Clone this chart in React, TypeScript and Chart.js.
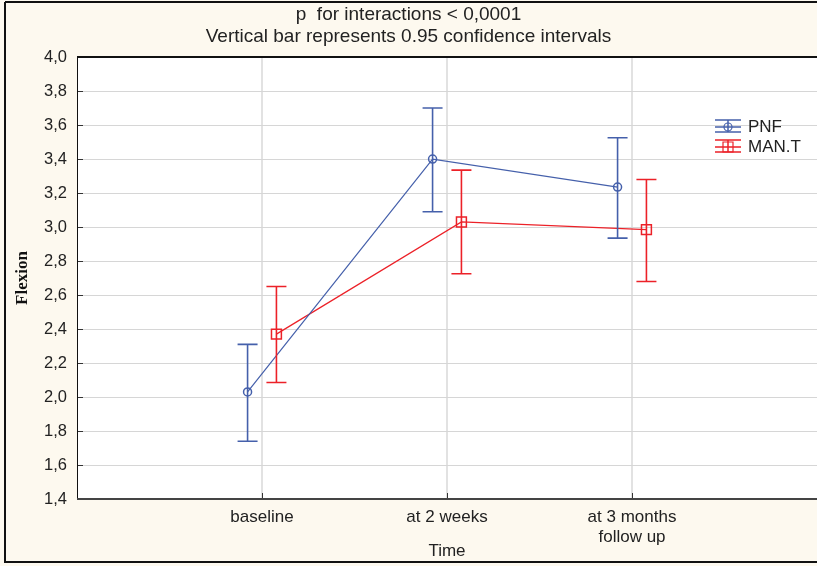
import React, { useEffect, useRef } from 'react';
import { Chart, registerables } from 'chart.js';

Chart.register(...registerables);

// ---- data ----
const categories: (string | string[])[] = ['baseline', 'at 2 weeks', ['at 3 months', 'follow up']];
const pnfMean = [2.03, 3.4, 3.235];
const pnfLow = [1.74, 3.09, 2.935];
const pnfHigh = [2.31, 3.7, 3.525];
const mantMean = [2.37, 3.03, 2.985];
const mantLow = [2.085, 2.725, 2.68];
const mantHigh = [2.65, 3.335, 3.28];
const yTickValues = [1.4, 1.6, 1.8, 2.0, 2.2, 2.4, 2.6, 2.8, 3.0, 3.2, 3.4, 3.6, 3.8, 4.0];
const titleLines = ['p  for interactions < 0,0001', 'Vertical bar represents 0.95 confidence intervals'];
const seriesNames = ['PNF', 'MAN.T'];
const xAxisTitle = 'Time';
const yAxisTitle = 'Flexion';

const BLUE = '#4560ab';
const RED = '#ec2128';
const CREAM = '#fdf9ef';
const OFFSET = 0.078;
const FONT = '"Liberation Sans", Arial, sans-serif';

const lows = [pnfLow, mantLow];
const highs = [pnfHigh, mantHigh];

const framePlugin = {
  id: 'frame',
  beforeDraw(chart: any) {
    const { ctx, chartArea, width, height } = chart;
    ctx.save();
    ctx.fillStyle = CREAM;
    ctx.fillRect(0, 0, width, height);
    ctx.fillStyle = '#ffffff';
    ctx.fillRect(chartArea.left, chartArea.top, chartArea.right - chartArea.left, chartArea.bottom - chartArea.top);
    ctx.strokeStyle = '#111';
    ctx.lineWidth = 2;
    ctx.beginPath();
    ctx.moveTo(5, 2);
    ctx.lineTo(width, 2);
    ctx.moveTo(5, 2);
    ctx.lineTo(5, 562);
    ctx.lineTo(width, 562);
    ctx.stroke();
    ctx.restore();
  },
  afterDraw(chart: any) {
    const { ctx, chartArea, scales } = chart;
    const { left, top, right, bottom } = chartArea;
    ctx.save();
    ctx.strokeStyle = '#333';
    ctx.lineWidth = 1;
    ctx.beginPath();
    for (const v of yTickValues) {
      const y = Math.round(scales.y.getPixelForValue(v)) + 0.5;
      ctx.moveTo(left, y);
      ctx.lineTo(left + 6, y);
    }
    for (let i = 0; i < categories.length; i++) {
      const x = Math.round(scales.x.getPixelForValue(i + 1)) + 0.5;
      ctx.moveTo(x, bottom);
      ctx.lineTo(x, bottom - 6);
    }
    ctx.stroke();
    ctx.strokeStyle = '#111';
    ctx.lineWidth = 2;
    ctx.beginPath();
    ctx.moveTo(right, top);
    ctx.lineTo(left, top);
    ctx.stroke();
    ctx.lineWidth = 1;
    ctx.beginPath();
    ctx.moveTo(left + 0.5, top);
    ctx.lineTo(left + 0.5, bottom);
    ctx.stroke();
    ctx.strokeStyle = '#444';
    ctx.lineWidth = 2;
    ctx.beginPath();
    ctx.moveTo(left, bottom);
    ctx.lineTo(right, bottom);
    ctx.stroke();

    // legend
    const lx = 715;
    const entries = [
      { y: 127, color: BLUE, style: 'circle' },
      { y: 147, color: RED, style: 'rect' },
    ];
    entries.forEach((e, i) => {
      ctx.strokeStyle = e.color;
      ctx.lineWidth = 1.5;
      ctx.beginPath();
      ctx.moveTo(lx, e.y - 7);
      ctx.lineTo(lx + 26, e.y - 7);
      ctx.moveTo(lx, e.y);
      ctx.lineTo(lx + 26, e.y);
      ctx.moveTo(lx, e.y + 5);
      ctx.lineTo(lx + 26, e.y + 5);
      ctx.moveTo(lx + 13, e.y - 7);
      ctx.lineTo(lx + 13, e.y + 5);
      ctx.stroke();
      ctx.lineWidth = 1.2;
      ctx.beginPath();
      if (e.style === 'circle') {
        ctx.arc(lx + 13, e.y, 4, 0, Math.PI * 2);
      } else {
        ctx.rect(lx + 13 - 5, e.y - 5, 10, 10);
      }
      ctx.stroke();
      ctx.fillStyle = '#222';
      ctx.font = `17px ${FONT}`;
      ctx.textBaseline = 'middle';
      ctx.textAlign = 'left';
      ctx.fillText(seriesNames[i], lx + 33, e.y);
    });
    ctx.restore();
  },
  afterDatasetsDraw(chart: any) {
    const { ctx, scales } = chart;
    ctx.save();
    chart.data.datasets.forEach((ds: any, di: number) => {
      ctx.strokeStyle = ds.borderColor;
      ctx.lineWidth = 1.6;
      ds.data.forEach((pt: any, i: number) => {
        const x = scales.x.getPixelForValue(pt.x);
        const yl = scales.y.getPixelForValue(lows[di][i]);
        const yh = scales.y.getPixelForValue(highs[di][i]);
        ctx.beginPath();
        ctx.moveTo(x, yl);
        ctx.lineTo(x, yh);
        ctx.moveTo(x - 10, yl);
        ctx.lineTo(x + 10, yl);
        ctx.moveTo(x - 10, yh);
        ctx.lineTo(x + 10, yh);
        ctx.stroke();
      });
    });
    ctx.restore();
  },
};

export default function App() {
  const ref = useRef<HTMLCanvasElement>(null);
  useEffect(() => {
    if (!ref.current) return;
    const mk = (vals: number[], off: number) => vals.map((v, i) => ({ x: i + 1 + off, y: v }));
    const chart = new Chart(ref.current, {
      type: 'line',
      data: {
        datasets: [
          {
            label: seriesNames[0],
            data: mk(pnfMean, -OFFSET),
            borderColor: BLUE,
            backgroundColor: 'rgba(255,255,255,0)',
            borderWidth: 1.2,
            pointStyle: 'circle',
            pointRadius: 4,
            pointBorderWidth: 1.5,
            pointBackgroundColor: 'rgba(255,255,255,0)',
          },
          {
            label: seriesNames[1],
            data: mk(mantMean, OFFSET),
            borderColor: RED,
            backgroundColor: 'rgba(255,255,255,0)',
            borderWidth: 1.2,
            pointStyle: 'rect',
            pointRadius: 7,
            pointBorderWidth: 1.5,
            pointBackgroundColor: 'rgba(255,255,255,0)',
          },
        ],
      },
      options: {
        responsive: false,
        animation: false,
        devicePixelRatio: 1,
        layout: { padding: 0, autoPadding: false },
        plugins: {
          legend: { display: false },
          tooltip: { enabled: false },
          title: {
            display: true,
            text: titleLines,
            color: '#222',
            font: { family: FONT, size: 19, weight: 'normal', lineHeight: 1.16 },
            padding: { top: 4, bottom: 9 },
          },
        },
        scales: {
          x: {
            type: 'linear',
            min: 0,
            max: 4,
            afterFit(scale: any) {
              scale.height = 67;
              scale.paddingLeft = 0;
              scale.paddingRight = 0;
            },
            afterBuildTicks(scale: any) {
              scale.ticks = categories.map((_, i) => ({ value: i + 1 }));
            },
            ticks: {
              color: '#222',
              font: { family: FONT, size: 17, lineHeight: 1.18 },
              padding: 8,
              maxRotation: 0,
              autoSkip: false,
              callback: (v: any) => categories[Number(v) - 1] as any,
            },
            grid: { color: '#e2e2e2', lineWidth: 2, drawTicks: false },
            border: { display: false },
            title: {
              display: true,
              text: xAxisTitle,
              color: '#222',
              font: { family: FONT, size: 17, lineHeight: 1.2 },
              padding: { top: 0, bottom: 4 },
            },
          },
          y: {
            type: 'linear',
            min: 1.4,
            max: 4.0,
            afterFit(scale: any) {
              scale.width = 77;
            },
            afterBuildTicks(scale: any) {
              scale.ticks = yTickValues.map((v) => ({ value: v }));
            },
            ticks: {
              color: '#222',
              font: { family: FONT, size: 16.5 },
              padding: 10,
              callback: (v: any) => Number(v).toFixed(1).replace('.', ','),
            },
            grid: { color: '#d6d6d6', lineWidth: 1, drawTicks: false },
            border: { display: false },
            title: {
              display: true,
              text: yAxisTitle,
              color: '#111',
              font: { family: '"Liberation Serif", "Times New Roman", serif', size: 17, weight: 'bold', lineHeight: 1.2 },
              padding: { top: 12, bottom: 0 },
            },
          },
        },
      },
      plugins: [framePlugin],
    } as any);
    return () => chart.destroy();
  }, []);
  return (
    <div style={{ position: 'absolute', left: 0, top: 0, width: 817, height: 566 }}>
      <canvas ref={ref} width={817} height={566} style={{ display: 'block', width: 817, height: 566 }} />
    </div>
  );
}
